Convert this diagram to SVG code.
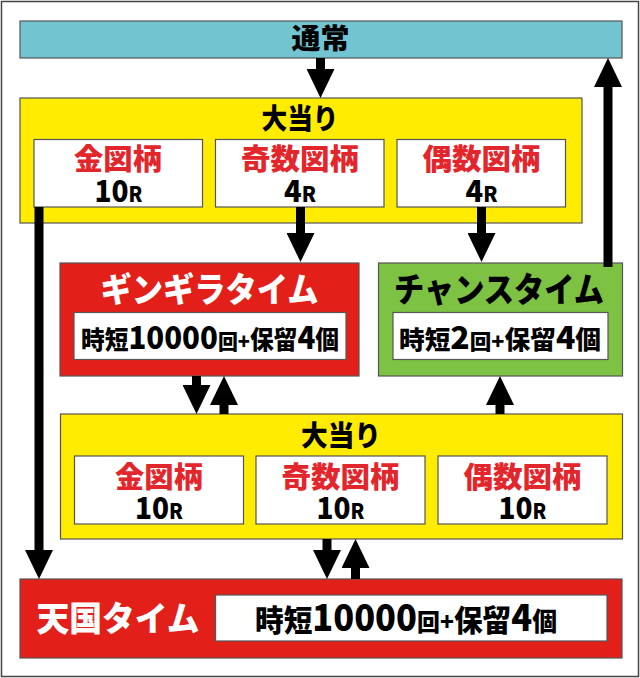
<svg xmlns="http://www.w3.org/2000/svg" width="640" height="678" viewBox="0 0 640 678">
<defs>
<marker id="ah" markerUnits="userSpaceOnUse" markerWidth="30" markerHeight="28" refX="0" refY="14" orient="auto">
<path d="M0,0 L29,14 L0,28 z" fill="#000"/>
</marker>
<style>
.bx{stroke:#555;stroke-width:1.2}
.t{font-family:"Noto Sans CJK JP","Liberation Sans",sans-serif;font-weight:900;text-anchor:middle}
.rd{fill:#E3262C}
.bk{fill:#000}
.wh{fill:#fff}
.ln{stroke:#000;stroke-width:9;fill:none;marker-end:url(#ah)}
</style>
</defs>
<rect x="1.5" y="1.5" width="637" height="675" fill="#fff" stroke="#444" stroke-width="1.5"/>

<g id="tsujo">
<rect class="bx" x="20" y="21" width="602" height="37" fill="#72C4D1"/>
<text class="t bk" x="320.5" y="49" font-size="28" textLength="58" lengthAdjust="spacingAndGlyphs">通常</text>
</g>

<g id="ooatari1">
<rect class="bx" x="20" y="98" width="562" height="125" fill="#FFEC00"/>
<text class="t bk" x="300" y="129" font-size="28" textLength="77" lengthAdjust="spacingAndGlyphs">大当り</text>
<rect class="bx" x="34" y="139.5" width="168.5" height="67.5" fill="#fff"/>
<rect class="bx" x="215.5" y="139.5" width="168.5" height="67.5" fill="#fff"/>
<rect class="bx" x="397" y="139.5" width="168.5" height="67.5" fill="#fff"/>
<text class="t rd" x="118" y="170" font-size="29" textLength="88" lengthAdjust="spacingAndGlyphs">金図柄</text>
<text class="t rd" x="300" y="170" font-size="29" textLength="118" lengthAdjust="spacingAndGlyphs">奇数図柄</text>
<text class="t rd" x="481.5" y="170" font-size="29" textLength="118" lengthAdjust="spacingAndGlyphs">偶数図柄</text>
<text class="t bk" x="118.5" y="201.5" font-size="30" textLength="48" lengthAdjust="spacingAndGlyphs">10<tspan font-size="21">R</tspan></text>
<text class="t bk" x="300" y="201.5" font-size="30" textLength="32" lengthAdjust="spacingAndGlyphs">4<tspan font-size="21">R</tspan></text>
<text class="t bk" x="481.5" y="201.5" font-size="30" textLength="32" lengthAdjust="spacingAndGlyphs">4<tspan font-size="21">R</tspan></text>
</g>

<g id="gingira">
<rect class="bx" x="60" y="263" width="299" height="113" fill="#E31F1A"/>
<text class="t wh" x="209.5" y="302" font-size="34" textLength="218" lengthAdjust="spacingAndGlyphs">ギンギラタイム</text>
<rect class="bx" x="74" y="312.5" width="272" height="47" fill="#fff"/>
<text class="t bk" x="210" y="349" font-size="25" textLength="258" lengthAdjust="spacingAndGlyphs">時短<tspan font-size="31">10000</tspan><tspan font-size="21">回+</tspan>保留<tspan font-size="31">4</tspan>個</text>
</g>

<g id="chance">
<rect class="bx" x="378.5" y="263" width="244" height="113" fill="#7DC243"/>
<text class="t bk" x="499" y="302" font-size="34" textLength="210" lengthAdjust="spacingAndGlyphs">チャンスタイム</text>
<rect class="bx" x="393" y="312.5" width="215" height="47" fill="#fff"/>
<text class="t bk" x="500" y="349" font-size="25" textLength="202" lengthAdjust="spacingAndGlyphs">時短<tspan font-size="31">2</tspan><tspan font-size="21">回+</tspan>保留<tspan font-size="31">4</tspan>個</text>
</g>

<g id="ooatari2">
<rect class="bx" x="60.5" y="414" width="562" height="125" fill="#FFEC00"/>
<text class="t bk" x="341" y="446" font-size="28" textLength="80" lengthAdjust="spacingAndGlyphs">大当り</text>
<rect class="bx" x="74.5" y="456" width="169" height="68" fill="#fff"/>
<rect class="bx" x="256" y="456" width="169" height="68" fill="#fff"/>
<rect class="bx" x="438" y="456" width="169" height="68" fill="#fff"/>
<text class="t rd" x="159" y="488" font-size="29" textLength="88" lengthAdjust="spacingAndGlyphs">金図柄</text>
<text class="t rd" x="340.5" y="488" font-size="29" textLength="118" lengthAdjust="spacingAndGlyphs">奇数図柄</text>
<text class="t rd" x="522.5" y="488" font-size="29" textLength="118" lengthAdjust="spacingAndGlyphs">偶数図柄</text>
<text class="t bk" x="159" y="519" font-size="30" textLength="48" lengthAdjust="spacingAndGlyphs">10<tspan font-size="21">R</tspan></text>
<text class="t bk" x="340.5" y="519" font-size="30" textLength="48" lengthAdjust="spacingAndGlyphs">10<tspan font-size="21">R</tspan></text>
<text class="t bk" x="522.5" y="519" font-size="30" textLength="48" lengthAdjust="spacingAndGlyphs">10<tspan font-size="21">R</tspan></text>
</g>

<g id="tengoku">
<rect class="bx" x="20" y="579" width="602" height="79" fill="#E31F1A"/>
<text class="t wh" x="118" y="631" font-size="34" textLength="163" lengthAdjust="spacingAndGlyphs">天国タイム</text>
<rect class="bx" x="215.5" y="595" width="391.5" height="46" fill="#fff"/>
<text class="t bk" x="406" y="631" font-size="30" textLength="302" lengthAdjust="spacingAndGlyphs">時短<tspan font-size="36">10000</tspan><tspan font-size="24">回+</tspan>保留<tspan font-size="36">4</tspan><tspan font-size="26">個</tspan></text>
</g>

<g id="connectors">
<line class="ln" x1="320.5" y1="58" x2="320.5" y2="69"/>
<line class="ln" x1="300.5" y1="207" x2="300.5" y2="233"/>
<line class="ln" x1="481.5" y1="207" x2="481.5" y2="233"/>
<line class="ln" x1="39" y1="207" x2="39" y2="550"/>
<line class="ln" x1="608" y1="267" x2="608" y2="87"/>
<line class="ln" x1="196.5" y1="376" x2="196.5" y2="385"/>
<line class="ln" x1="224" y1="414" x2="224" y2="405"/>
<line class="ln" x1="500" y1="414" x2="500" y2="405"/>
<line class="ln" x1="327" y1="539" x2="327" y2="550"/>
<line class="ln" x1="355.5" y1="579" x2="355.5" y2="568"/>
</g>
</svg>
